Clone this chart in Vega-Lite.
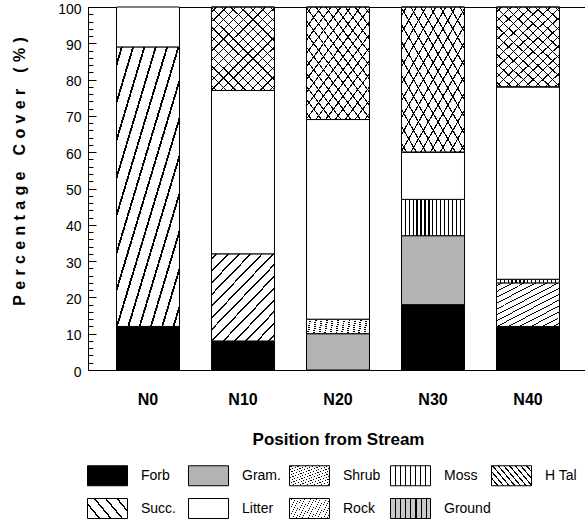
{
  "$schema": "https://vega.github.io/schema/vega-lite/v6.json",
  "width": 500,
  "height": 363,
  "autosize": {"type": "none"},
  "padding": {"left": 88, "top": 7, "right": 0, "bottom": 153},
  "background": "white",
  "config": {
    "view": {"stroke": "black", "strokeWidth": 1},
    "font": "Liberation Sans, Arial"
  },
  "data": {
    "values": [
      {"site": "N0", "cover": "Forb", "pct": 12, "rank": 1},
      {"site": "N0", "cover": "Shrub", "pct": 77, "rank": 3},
      {"site": "N0", "cover": "Litter", "pct": 11, "rank": 7},
      {"site": "N10", "cover": "Forb", "pct": 8, "rank": 1},
      {"site": "N10", "cover": "Shrub", "pct": 24, "rank": 3},
      {"site": "N10", "cover": "Litter", "pct": 45, "rank": 7},
      {"site": "N10", "cover": "Rock", "pct": 23, "rank": 8},
      {"site": "N20", "cover": "Gram.", "pct": 10, "rank": 2},
      {"site": "N20", "cover": "Shrub", "pct": 4, "rank": 3},
      {"site": "N20", "cover": "Litter", "pct": 55, "rank": 7},
      {"site": "N20", "cover": "Rock", "pct": 31, "rank": 8},
      {"site": "N30", "cover": "Forb", "pct": 18, "rank": 1},
      {"site": "N30", "cover": "Gram.", "pct": 19, "rank": 2},
      {"site": "N30", "cover": "Moss", "pct": 10, "rank": 4},
      {"site": "N30", "cover": "Litter", "pct": 13, "rank": 7},
      {"site": "N30", "cover": "Rock", "pct": 40, "rank": 8},
      {"site": "N40", "cover": "Forb", "pct": 12, "rank": 1},
      {"site": "N40", "cover": "Shrub", "pct": 12, "rank": 3},
      {"site": "N40", "cover": "Moss", "pct": 1, "rank": 4},
      {"site": "N40", "cover": "Litter", "pct": 53, "rank": 7},
      {"site": "N40", "cover": "Rock", "pct": 22, "rank": 8}
    ]
  },
  "transform": [
    {"stack": "pct", "groupby": ["site"], "sort": [{"field": "rank", "order": "ascending"}], "as": ["lo", "hi"]}
  ],
  "encoding": {
    "x": {
      "field": "site",
      "type": "nominal",
      "sort": ["N0", "N10", "N20", "N30", "N40"],
      "scale": {"paddingInner": 0.337, "paddingOuter": 0.3},
      "axis": {
        "title": "Position from Stream",
        "labelAngle": 0,
        "ticks": false,
        "domain": true,
        "domainColor": "black",
        "labelFontSize": 16,
        "labelFontWeight": "bold",
        "labelColor": "black",
        "labelPadding": 21,
        "titleFontSize": 17,
        "titleFontWeight": "bold",
        "titleColor": "black",
        "titlePadding": 24
      }
    },
    "y": {
      "field": "lo",
      "type": "quantitative",
      "scale": {"domain": [0, 100], "nice": false},
      "axis": {
        "title": "P\u2004e\u2004r\u2004c\u2004e\u2004n\u2004t\u2004a\u2004g\u2004e\u2004\u2004\u2004C\u2004o\u2004v\u2004e\u2004r\u2004\u2004\u2004(\u2004%\u2004)",
        "values": [0, 2, 4, 6, 8, 10, 12, 14, 16, 18, 20, 22, 24, 26, 28, 30, 32, 34, 36, 38, 40, 42, 44, 46, 48, 50, 52, 54, 56, 58, 60, 62, 64, 66, 68, 70, 72, 74, 76, 78, 80, 82, 84, 86, 88, 90, 92, 94, 96, 98, 100],
        "labelExpr": "datum.value % 10 === 0 ? datum.label : ''",
        "tickSize": {"condition": {"test": "datum.value % 10 === 0", "value": -8}, "value": -5},
        "tickColor": "black",
        "domainColor": "black",
        "grid": false,
        "labelFontSize": 14,
        "labelColor": "black",
        "labelPadding": 15,
        "labelOffset": 2,
        "labelFlush": false,
        "titleFontSize": 16,
        "titleFontWeight": "bold",
        "titleColor": "black",
        "titlePadding": 30,
        "titleY": 164
      }
    },
    "y2": {"field": "hi"}
  },
  "layer": [
    {
      "mark": {"type": "bar", "stroke": "black", "strokeWidth": 1},
      "encoding": {
        "fill": {
          "field": "cover",
          "type": "nominal",
          "scale": {
            "domain": ["Forb", "Gram.", "Shrub", "Moss", "H Tal", "Succ.", "Litter", "Rock", "Ground"],
            "range": [
              "black",
              "#b3b3b3",
              {"expr": "{gradient:'linear',x1:0,y1:0,x2:0.84,y2:1.12,stops:[{offset:0,color:'#fff'},{offset:0.03,color:'#fff'},{offset:0.03,color:'#000'},{offset:0.043,color:'#000'},{offset:0.043,color:'#fff'},{offset:0.107,color:'#fff'},{offset:0.107,color:'#000'},{offset:0.12,color:'#000'},{offset:0.12,color:'#fff'},{offset:0.184,color:'#fff'},{offset:0.184,color:'#000'},{offset:0.197,color:'#000'},{offset:0.197,color:'#fff'},{offset:0.261,color:'#fff'},{offset:0.261,color:'#000'},{offset:0.274,color:'#000'},{offset:0.274,color:'#fff'},{offset:0.338,color:'#fff'},{offset:0.338,color:'#000'},{offset:0.351,color:'#000'},{offset:0.351,color:'#fff'},{offset:0.415,color:'#fff'},{offset:0.415,color:'#000'},{offset:0.428,color:'#000'},{offset:0.428,color:'#fff'},{offset:0.491,color:'#fff'},{offset:0.491,color:'#000'},{offset:0.504,color:'#000'},{offset:0.504,color:'#fff'},{offset:0.568,color:'#fff'},{offset:0.568,color:'#000'},{offset:0.581,color:'#000'},{offset:0.581,color:'#fff'},{offset:0.645,color:'#fff'},{offset:0.645,color:'#000'},{offset:0.658,color:'#000'},{offset:0.658,color:'#fff'},{offset:0.722,color:'#fff'},{offset:0.722,color:'#000'},{offset:0.735,color:'#000'},{offset:0.735,color:'#fff'},{offset:0.799,color:'#fff'},{offset:0.799,color:'#000'},{offset:0.812,color:'#000'},{offset:0.812,color:'#fff'},{offset:0.876,color:'#fff'},{offset:0.876,color:'#000'},{offset:0.889,color:'#000'},{offset:0.889,color:'#fff'},{offset:0.953,color:'#fff'},{offset:0.953,color:'#000'},{offset:0.966,color:'#000'},{offset:0.966,color:'#fff'},{offset:1,color:'#fff'}]}"},
              {"expr": "{gradient:'linear',x1:0,y1:0,x2:1,y2:0,stops:[{offset:0,color:'#fff'},{offset:0.05,color:'#fff'},{offset:0.05,color:'#000'},{offset:0.07,color:'#000'},{offset:0.07,color:'#fff'},{offset:0.1125,color:'#fff'},{offset:0.1125,color:'#000'},{offset:0.1325,color:'#000'},{offset:0.1325,color:'#fff'},{offset:0.175,color:'#fff'},{offset:0.175,color:'#000'},{offset:0.195,color:'#000'},{offset:0.195,color:'#fff'},{offset:0.2375,color:'#fff'},{offset:0.2375,color:'#000'},{offset:0.2575,color:'#000'},{offset:0.2575,color:'#fff'},{offset:0.3,color:'#fff'},{offset:0.3,color:'#000'},{offset:0.32,color:'#000'},{offset:0.32,color:'#fff'},{offset:0.3625,color:'#fff'},{offset:0.3625,color:'#000'},{offset:0.3825,color:'#000'},{offset:0.3825,color:'#fff'},{offset:0.425,color:'#fff'},{offset:0.425,color:'#000'},{offset:0.445,color:'#000'},{offset:0.445,color:'#fff'},{offset:0.4875,color:'#fff'},{offset:0.4875,color:'#000'},{offset:0.5075,color:'#000'},{offset:0.5075,color:'#fff'},{offset:0.55,color:'#fff'},{offset:0.55,color:'#000'},{offset:0.57,color:'#000'},{offset:0.57,color:'#fff'},{offset:0.6125,color:'#fff'},{offset:0.6125,color:'#000'},{offset:0.6325,color:'#000'},{offset:0.6325,color:'#fff'},{offset:0.675,color:'#fff'},{offset:0.675,color:'#000'},{offset:0.695,color:'#000'},{offset:0.695,color:'#fff'},{offset:0.7375,color:'#fff'},{offset:0.7375,color:'#000'},{offset:0.7575,color:'#000'},{offset:0.7575,color:'#fff'},{offset:0.8,color:'#fff'},{offset:0.8,color:'#000'},{offset:0.82,color:'#000'},{offset:0.82,color:'#fff'},{offset:0.8625,color:'#fff'},{offset:0.8625,color:'#000'},{offset:0.8825,color:'#000'},{offset:0.8825,color:'#fff'},{offset:0.925,color:'#fff'},{offset:0.925,color:'#000'},{offset:0.945,color:'#000'},{offset:0.945,color:'#fff'},{offset:1,color:'#fff'}]}"},
              {"expr": "{gradient:'linear',x1:0,y1:1,x2:1.207,y2:0.497,stops:[{offset:0,color:'#fff'},{offset:0.1,color:'#fff'},{offset:0.1,color:'#000'},{offset:0.125,color:'#000'},{offset:0.125,color:'#fff'},{offset:0.2,color:'#fff'},{offset:0.2,color:'#000'},{offset:0.225,color:'#000'},{offset:0.225,color:'#fff'},{offset:0.3,color:'#fff'},{offset:0.3,color:'#000'},{offset:0.325,color:'#000'},{offset:0.325,color:'#fff'},{offset:0.4,color:'#fff'},{offset:0.4,color:'#000'},{offset:0.425,color:'#000'},{offset:0.425,color:'#fff'},{offset:0.5,color:'#fff'},{offset:0.5,color:'#000'},{offset:0.525,color:'#000'},{offset:0.525,color:'#fff'},{offset:0.6,color:'#fff'},{offset:0.6,color:'#000'},{offset:0.625,color:'#000'},{offset:0.625,color:'#fff'},{offset:0.7,color:'#fff'},{offset:0.7,color:'#000'},{offset:0.725,color:'#000'},{offset:0.725,color:'#fff'},{offset:0.8,color:'#fff'},{offset:0.8,color:'#000'},{offset:0.825,color:'#000'},{offset:0.825,color:'#fff'},{offset:0.9,color:'#fff'},{offset:0.9,color:'#000'},{offset:0.925,color:'#000'},{offset:0.925,color:'#fff'},{offset:1,color:'#fff'}]}"},
              {"expr": "{gradient:'linear',x1:0,y1:1,x2:1.207,y2:0.497,stops:[{offset:0,color:'#fff'},{offset:0.2,color:'#fff'},{offset:0.2,color:'#000'},{offset:0.23,color:'#000'},{offset:0.23,color:'#fff'},{offset:0.4,color:'#fff'},{offset:0.4,color:'#000'},{offset:0.43,color:'#000'},{offset:0.43,color:'#fff'},{offset:0.6,color:'#fff'},{offset:0.6,color:'#000'},{offset:0.63,color:'#000'},{offset:0.63,color:'#fff'},{offset:0.8,color:'#fff'},{offset:0.8,color:'#000'},{offset:0.83,color:'#000'},{offset:0.83,color:'#fff'},{offset:1,color:'#fff'}]}"},
              "white",
              {"expr": "{gradient:'linear',x1:0,y1:1,x2:0.84,y2:-0.12,stops:[{offset:0,color:'#fff'},{offset:0.03,color:'#fff'},{offset:0.03,color:'#000'},{offset:0.039,color:'#000'},{offset:0.039,color:'#fff'},{offset:0.097,color:'#fff'},{offset:0.097,color:'#000'},{offset:0.106,color:'#000'},{offset:0.106,color:'#fff'},{offset:0.163,color:'#fff'},{offset:0.163,color:'#000'},{offset:0.172,color:'#000'},{offset:0.172,color:'#fff'},{offset:0.23,color:'#fff'},{offset:0.23,color:'#000'},{offset:0.239,color:'#000'},{offset:0.239,color:'#fff'},{offset:0.297,color:'#fff'},{offset:0.297,color:'#000'},{offset:0.306,color:'#000'},{offset:0.306,color:'#fff'},{offset:0.363,color:'#fff'},{offset:0.363,color:'#000'},{offset:0.372,color:'#000'},{offset:0.372,color:'#fff'},{offset:0.43,color:'#fff'},{offset:0.43,color:'#000'},{offset:0.439,color:'#000'},{offset:0.439,color:'#fff'},{offset:0.497,color:'#fff'},{offset:0.497,color:'#000'},{offset:0.506,color:'#000'},{offset:0.506,color:'#fff'},{offset:0.563,color:'#fff'},{offset:0.563,color:'#000'},{offset:0.572,color:'#000'},{offset:0.572,color:'#fff'},{offset:0.63,color:'#fff'},{offset:0.63,color:'#000'},{offset:0.639,color:'#000'},{offset:0.639,color:'#fff'},{offset:0.697,color:'#fff'},{offset:0.697,color:'#000'},{offset:0.706,color:'#000'},{offset:0.706,color:'#fff'},{offset:0.763,color:'#fff'},{offset:0.763,color:'#000'},{offset:0.772,color:'#000'},{offset:0.772,color:'#fff'},{offset:0.83,color:'#fff'},{offset:0.83,color:'#000'},{offset:0.839,color:'#000'},{offset:0.839,color:'#fff'},{offset:0.897,color:'#fff'},{offset:0.897,color:'#000'},{offset:0.906,color:'#000'},{offset:0.906,color:'#fff'},{offset:0.963,color:'#fff'},{offset:0.963,color:'#000'},{offset:0.972,color:'#000'},{offset:0.972,color:'#fff'},{offset:1,color:'#fff'}]}"},
              {"expr": "{gradient:'linear',x1:0,y1:0,x2:1,y2:0,stops:[{offset:0,color:'#c8c8c8'},{offset:0.1,color:'#c8c8c8'},{offset:0.1,color:'#000'},{offset:0.13,color:'#000'},{offset:0.13,color:'#c8c8c8'},{offset:0.23,color:'#c8c8c8'},{offset:0.23,color:'#000'},{offset:0.26,color:'#000'},{offset:0.26,color:'#c8c8c8'},{offset:0.36,color:'#c8c8c8'},{offset:0.36,color:'#000'},{offset:0.39,color:'#000'},{offset:0.39,color:'#c8c8c8'},{offset:0.49,color:'#c8c8c8'},{offset:0.49,color:'#000'},{offset:0.52,color:'#000'},{offset:0.52,color:'#c8c8c8'},{offset:0.62,color:'#c8c8c8'},{offset:0.62,color:'#000'},{offset:0.65,color:'#000'},{offset:0.65,color:'#c8c8c8'},{offset:0.75,color:'#c8c8c8'},{offset:0.75,color:'#000'},{offset:0.78,color:'#000'},{offset:0.78,color:'#c8c8c8'},{offset:0.88,color:'#c8c8c8'},{offset:0.88,color:'#000'},{offset:0.91,color:'#000'},{offset:0.91,color:'#c8c8c8'},{offset:1,color:'#c8c8c8'}]}"}
            ]
          },
          "legend": {
            "title": null,
            "orient": "none",
            "legendX": -1,
            "legendY": 448,
            "direction": "horizontal",
            "columns": 5,
            "gridAlign": "all",
            "symbolType": "M-1,-0.5H1V0.5H-1Z",
            "symbolSize": 1600,
            "symbolStrokeColor": "black",
            "symbolStrokeWidth": 1,
            "symbolOpacity": 1,
            "labelFontSize": 14,
            "labelColor": "black",
            "labelOffset": 13,
            "columnPadding": -4,
            "rowPadding": -2
          }
        }
      }
    },
    {
      "transform": [{"filter": "datum.cover === 'Rock'"}],
      "mark": {
        "type": "bar",
        "stroke": "black",
        "strokeWidth": 1,
        "fill": {"gradient": "linear", "x1": 0, "y1": 0, "x2": 0.84, "y2": 1.12, "stops": [
          {"offset": 0, "color": "rgba(0,0,0,0)"}, {"offset": 0.03, "color": "rgba(0,0,0,0)"}, {"offset": 0.03, "color": "#000"}, {"offset": 0.039, "color": "#000"}, {"offset": 0.039, "color": "rgba(0,0,0,0)"},
          {"offset": 0.097, "color": "rgba(0,0,0,0)"}, {"offset": 0.097, "color": "#000"}, {"offset": 0.106, "color": "#000"}, {"offset": 0.106, "color": "rgba(0,0,0,0)"},
          {"offset": 0.163, "color": "rgba(0,0,0,0)"}, {"offset": 0.163, "color": "#000"}, {"offset": 0.172, "color": "#000"}, {"offset": 0.172, "color": "rgba(0,0,0,0)"},
          {"offset": 0.23, "color": "rgba(0,0,0,0)"}, {"offset": 0.23, "color": "#000"}, {"offset": 0.239, "color": "#000"}, {"offset": 0.239, "color": "rgba(0,0,0,0)"},
          {"offset": 0.297, "color": "rgba(0,0,0,0)"}, {"offset": 0.297, "color": "#000"}, {"offset": 0.306, "color": "#000"}, {"offset": 0.306, "color": "rgba(0,0,0,0)"},
          {"offset": 0.363, "color": "rgba(0,0,0,0)"}, {"offset": 0.363, "color": "#000"}, {"offset": 0.372, "color": "#000"}, {"offset": 0.372, "color": "rgba(0,0,0,0)"},
          {"offset": 0.43, "color": "rgba(0,0,0,0)"}, {"offset": 0.43, "color": "#000"}, {"offset": 0.439, "color": "#000"}, {"offset": 0.439, "color": "rgba(0,0,0,0)"},
          {"offset": 0.497, "color": "rgba(0,0,0,0)"}, {"offset": 0.497, "color": "#000"}, {"offset": 0.506, "color": "#000"}, {"offset": 0.506, "color": "rgba(0,0,0,0)"},
          {"offset": 0.563, "color": "rgba(0,0,0,0)"}, {"offset": 0.563, "color": "#000"}, {"offset": 0.572, "color": "#000"}, {"offset": 0.572, "color": "rgba(0,0,0,0)"},
          {"offset": 0.63, "color": "rgba(0,0,0,0)"}, {"offset": 0.63, "color": "#000"}, {"offset": 0.639, "color": "#000"}, {"offset": 0.639, "color": "rgba(0,0,0,0)"},
          {"offset": 0.697, "color": "rgba(0,0,0,0)"}, {"offset": 0.697, "color": "#000"}, {"offset": 0.706, "color": "#000"}, {"offset": 0.706, "color": "rgba(0,0,0,0)"},
          {"offset": 0.763, "color": "rgba(0,0,0,0)"}, {"offset": 0.763, "color": "#000"}, {"offset": 0.772, "color": "#000"}, {"offset": 0.772, "color": "rgba(0,0,0,0)"},
          {"offset": 0.83, "color": "rgba(0,0,0,0)"}, {"offset": 0.83, "color": "#000"}, {"offset": 0.839, "color": "#000"}, {"offset": 0.839, "color": "rgba(0,0,0,0)"},
          {"offset": 0.897, "color": "rgba(0,0,0,0)"}, {"offset": 0.897, "color": "#000"}, {"offset": 0.906, "color": "#000"}, {"offset": 0.906, "color": "rgba(0,0,0,0)"},
          {"offset": 0.963, "color": "rgba(0,0,0,0)"}, {"offset": 0.963, "color": "#000"}, {"offset": 0.972, "color": "#000"}, {"offset": 0.972, "color": "rgba(0,0,0,0)"},
          {"offset": 1, "color": "rgba(0,0,0,0)"}
        ]}
      },
      "encoding": {}
    }
  ]
}
